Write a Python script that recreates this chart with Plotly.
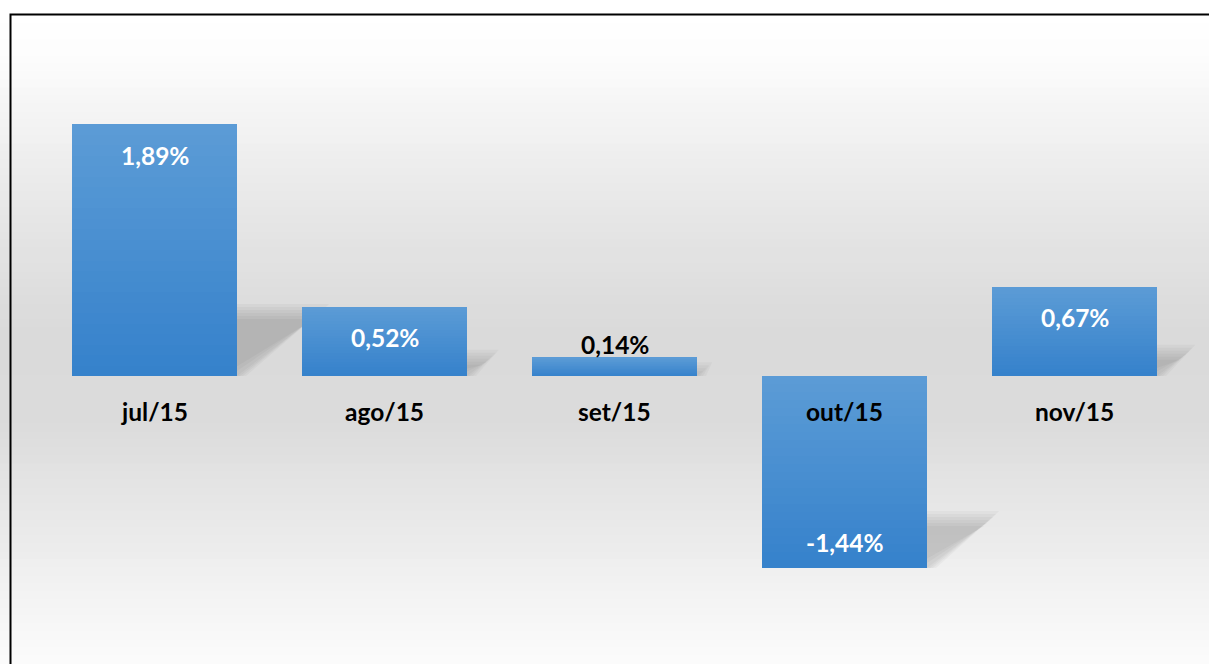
import plotly.graph_objects as go

categories = ["jul/15", "ago/15", "set/15", "out/15", "nov/15"]
values = [1.89, 0.52, 0.14, -1.44, 0.67]
value_labels = ["1,89%", "0,52%", "0,14%", "-1,44%", "0,67%"]

W, H = 1209, 664
PX_PER_CAT = 230.0
PX_PER_UNIT = 133.33
ZERO_PX = 376.0
FIRST_CAT_PX = 154.5
BAR_W = 165.0 / PX_PER_CAT

x_lo = -FIRST_CAT_PX / PX_PER_CAT
x_hi = x_lo + W / PX_PER_CAT
y_hi = ZERO_PX / PX_PER_UNIT
y_lo = -(H - ZERO_PX) / PX_PER_UNIT

TOP_C = (0x5C, 0x9C, 0xD6)
BOT_C = (0x35, 0x81, 0xCB)


def lerp(c1, c2, t):
    return "rgb(%d,%d,%d)" % tuple(round(a + (b - a) * t) for a, b in zip(c1, c2))


fig = go.Figure()

# base bars
fig.add_trace(go.Bar(x=list(range(len(values))), y=values, width=BAR_W,
                     marker=dict(color=lerp(TOP_C, BOT_C, 0.5), line=dict(width=0)),
                     hoverinfo="skip", showlegend=False))
# gradient slices
N = 24
for j in range(N):
    ys, bases, cols = [], [], []
    for v in values:
        ys.append(v / N)
        bases.append(v * j / N)
        t = 1 - (j + 0.5) / N if v >= 0 else (j + 0.5) / N
        cols.append(lerp(TOP_C, BOT_C, t))
    fig.add_trace(go.Bar(x=list(range(len(values))), y=ys, base=bases, width=BAR_W,
                         marker=dict(color=cols, line=dict(width=0)),
                         hoverinfo="skip", showlegend=False))

shapes = []
# background gradient (white -> grey -> white)
stops = [(0, 255), (14, 255), (60, 252), (200, 232), (330, 218), (420, 219), (560, 238), (664, 252)]


def grey_at(py):
    for (a, ga), (b, gb) in zip(stops, stops[1:]):
        if a <= py <= b:
            return ga + (gb - ga) * (py - a) / (b - a) if b > a else ga
    return stops[-1][1]


step = 8
for py in range(0, H, step):
    g = round(grey_at(py + step / 2))
    shapes.append(dict(type="rect", xref="paper", yref="paper", layer="below",
                       x0=0, x1=1, y0=1 - (py + step) / H, y1=1 - py / H + 0.001,
                       fillcolor="rgb(%d,%d,%d)" % (g, g, g), line=dict(width=0)))

# soft perspective shadows
K = 0.25
S = 0.33
for i, v in enumerate(values):
    h = abs(v)
    bottom = min(0, v)
    xr = i + BAR_W / 2
    xl = i - BAR_W / 2
    dx = S * h * PX_PER_UNIT / PX_PER_CAT
    for e in [9, 6, 3, 0, -3, -6]:
        ey = e / PX_PER_UNIT
        ex = e / PX_PER_CAT
        top = bottom + K * h + ey
        b = bottom + max(0, -ey)
        if top <= b:
            continue
        path = "M %f,%f L %f,%f L %f,%f L %f,%f Z" % (
            xl, b, xr + ex, b, xr + dx + ex, top, xl + dx, top)
        shapes.append(dict(type="path", path=path, xref="x", yref="y", layer="below",
                           fillcolor="rgba(40,40,40,0.04)", line=dict(width=0)))

# frame
shapes.append(dict(type="rect", xref="paper", yref="paper", layer="above",
                   x0=10.5 / W, x1=1.02, y0=-0.02, y1=1 - 14.5 / H,
                   line=dict(color="black", width=2), fillcolor="rgba(0,0,0,0)"))

annotations = []
FONT = "Lato, 'Open Sans', sans-serif"
FS = 24.5
for i, (c, v, lab) in enumerate(zip(categories, values, value_labels)):
    annotations.append(dict(x=i, y=0, xref="x", yref="y", text=c, showarrow=False,
                            yshift=-35, font=dict(family=FONT, size=FS, color="black", weight="bold")))
    if abs(v) >= 0.3:
        ys = -31 if v > 0 else 26
        col = "white"
    else:
        ys = 13
        col = "black"
    annotations.append(dict(x=i, y=v, xref="x", yref="y", text=lab, showarrow=False,
                            yshift=ys, font=dict(family=FONT, size=FS, color=col, weight="bold")))

fig.update_layout(
    width=W, height=H, margin=dict(l=0, r=0, t=0, b=0),
    barmode="overlay", bargap=0,
    paper_bgcolor="white", plot_bgcolor="rgba(0,0,0,0)",
    xaxis=dict(range=[x_lo, x_hi], visible=False, fixedrange=True),
    yaxis=dict(range=[y_lo, y_hi], visible=False, fixedrange=True),
    shapes=shapes, annotations=annotations, showlegend=False,
)

fig.write_html("out.html", config={"displayModeBar": False},
               post_script="document.body.style.margin='0';document.body.style.overflow='hidden';")
